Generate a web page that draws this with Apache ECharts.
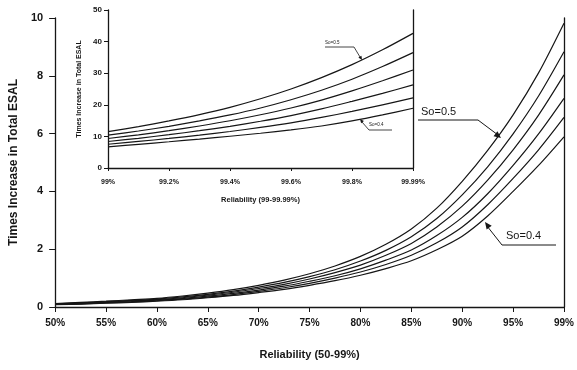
<!DOCTYPE html>
<html><head><meta charset="utf-8">
<script src="https://cdn.jsdelivr.net/npm/echarts@6/dist/echarts.min.js"></script>
<style>html,body{margin:0;padding:0;background:#fff}#c{width:577px;height:370px}</style>
</head><body><div id="c"></div>
<script>
// ---- Main chart data (Reliability 50-99%), every other category is labelled ----
const mainCategories = ['50%','52.5%','55%','57.5%','60%','62.5%','65%','67.5%','70%','72.5%','75%',
                        '77.5%','80%','82.5%','85%','87.5%','90%','92.5%','95%','97%','99%'];
const mainYTicks = [0, 2, 4, 6, 8, 10];
const mainSo050 = [0.12,0.16,0.20,0.25,0.30,0.38,0.48,0.60,0.75,0.93,1.15,1.42,1.75,2.17,2.70,3.42,4.35,5.42,6.65,8.10,9.82];
const mainSo048 = [0.11,0.145,0.185,0.23,0.275,0.35,0.44,0.55,0.69,0.85,1.05,1.29,1.59,1.96,2.43,3.06,3.88,4.85,5.99,7.30,8.83];
const mainSo046 = [0.10,0.133,0.17,0.21,0.255,0.32,0.41,0.51,0.64,0.785,0.97,1.19,1.45,1.79,2.20,2.77,3.49,4.39,5.44,6.64,8.03];
const mainSo044 = [0.095,0.12,0.155,0.19,0.235,0.29,0.375,0.47,0.585,0.72,0.89,1.08,1.32,1.62,1.97,2.47,3.10,3.92,4.90,5.99,7.22];
const mainSo042 = [0.09,0.11,0.14,0.175,0.217,0.27,0.345,0.43,0.54,0.665,0.82,1.00,1.21,1.47,1.79,2.22,2.77,3.54,4.45,5.44,6.56];
const mainSo040 = [0.08,0.10,0.13,0.16,0.20,0.25,0.32,0.40,0.50,0.61,0.75,0.91,1.10,1.33,1.60,1.98,2.45,3.15,4.00,4.90,5.89];

// ---- Inset chart data (Reliability 99-99.99%), every other category is labelled ----
const insetCategories = ['99%','99.1%','99.2%','99.3%','99.4%','99.5%','99.6%','99.7%','99.8%','99.9%','99.99%'];
const insetYTicks = [0, 10, 20, 30, 40, 50];
const insetSo050 = [11.5,13.1,14.9,16.9,19.2,21.9,25.0,28.6,32.7,37.4,42.6];
const insetSo048 = [10.4,11.7,13.2,14.9,16.8,19.0,21.6,24.6,28.1,32.1,36.5];
const insetSo046 = [9.34,10.5,11.8,13.3,14.95,16.85,19.0,21.5,24.4,27.6,31.0];
const insetSo044 = [8.38,9.4,10.55,11.8,13.2,14.8,16.6,18.7,21.1,23.6,26.3];
const insetSo042 = [7.52,8.4,9.35,10.4,11.55,12.85,14.3,16.0,17.9,20.0,22.2];
const insetSo040 = [6.7,7.5,8.3,9.15,10.05,11.0,12.05,13.3,14.9,16.8,18.9];

const FONT = "'Liberation Sans', Arial, sans-serif";
const INK = '#161616';

const chart = echarts.init(document.getElementById('c'), null, {renderer: 'canvas'});

function lineSeries(data, xi, yi) {
  return {
    type: 'line', data: data, xAxisIndex: xi, yAxisIndex: yi,
    smooth: 0.3, symbol: 'none', silent: true,
    lineStyle: {color: INK, width: 1.2}
  };
}

function arrowHead(tip, from, size) {
  const dx = tip[0] - from[0], dy = tip[1] - from[1];
  const len = Math.sqrt(dx*dx + dy*dy);
  const ux = dx/len, uy = dy/len;
  const bx = tip[0] - ux*size, by = tip[1] - uy*size;
  const px = -uy*size*0.45, py = ux*size*0.45;
  return {type: 'polygon', shape: {points: [tip, [bx+px, by+py], [bx-px, by-py]]},
          style: {fill: INK}, z: 100};
}
function poly(points, w) {
  return {type: 'polyline', shape: {points: points}, style: {stroke: INK, lineWidth: w, fill: null}, z: 100};
}
function txt(x, y, s, size) {
  return {type: 'text', x: x, y: y, z: 100,
          style: {text: s, font: size + 'px ' + FONT, fill: INK, textVerticalAlign: 'middle'}};
}

const axisLineStyle = {lineStyle: {color: INK, width: 1.3}};

const option = {
  animation: false,
  backgroundColor: '#fff',
  grid: [
    {left: 55, right: 10, top: 18, bottom: 63},
    {left: 108, right: 164, top: 10, bottom: 202}
  ],
  xAxis: [
    {
      type: 'category', gridIndex: 0, data: mainCategories, boundaryGap: false,
      axisLine: axisLineStyle,
      axisTick: {show: true, length: 5, interval: 1, lineStyle: {color: INK}},
      axisLabel: {color: INK, fontFamily: FONT, fontWeight: 'bold', fontSize: 10, margin: 11, interval: 1},
      splitLine: {show: false},
      name: 'Reliability (50-99%)', nameLocation: 'middle', nameGap: 42,
      nameTextStyle: {color: INK, fontFamily: FONT, fontWeight: 'bold', fontSize: 11}
    },
    {
      type: 'category', gridIndex: 1, data: insetCategories, boundaryGap: false,
      axisLine: axisLineStyle,
      axisTick: {show: true, length: 3, interval: 1, lineStyle: {color: INK}},
      axisLabel: {color: INK, fontFamily: FONT, fontWeight: 'bold', fontSize: 7, margin: 11, interval: 1},
      splitLine: {show: false},
      name: 'Reliability (99-99.99%)', nameLocation: 'middle', nameGap: 28,
      nameTextStyle: {color: INK, fontFamily: FONT, fontWeight: 'bold', fontSize: 7.5}
    }
  ],
  yAxis: [
    {
      type: 'value', gridIndex: 0, min: mainYTicks[0], max: mainYTicks[mainYTicks.length-1],
      interval: mainYTicks[1] - mainYTicks[0],
      axisLine: Object.assign({show: true}, axisLineStyle),
      axisTick: {show: true, length: 6, lineStyle: {color: INK}},
      axisLabel: {color: INK, fontFamily: FONT, fontWeight: 'bold', fontSize: 11, margin: 12},
      splitLine: {show: false},
      name: 'Times Increase in Total ESAL', nameLocation: 'middle', nameGap: 32,
      nameTextStyle: {color: INK, fontFamily: FONT, fontWeight: 'bold', fontSize: 12}
    },
    {
      type: 'value', gridIndex: 0, position: 'right', min: mainYTicks[0], max: mainYTicks[mainYTicks.length-1],
      axisLine: Object.assign({show: true}, axisLineStyle),
      axisTick: {show: false}, axisLabel: {show: false}, splitLine: {show: false}
    },
    {
      type: 'value', gridIndex: 1, min: insetYTicks[0], max: insetYTicks[insetYTicks.length-1],
      interval: insetYTicks[1] - insetYTicks[0],
      axisLine: Object.assign({show: true}, axisLineStyle),
      axisTick: {show: true, length: 4, lineStyle: {color: INK}},
      axisLabel: {color: INK, fontFamily: FONT, fontWeight: 'bold', fontSize: 8, margin: 6},
      splitLine: {show: false},
      name: 'Times Increase in Total ESAL', nameLocation: 'middle', nameGap: 24,
      nameTextStyle: {color: INK, fontFamily: FONT, fontWeight: 'bold', fontSize: 7}
    },
    {
      type: 'value', gridIndex: 1, position: 'right', min: insetYTicks[0], max: insetYTicks[insetYTicks.length-1],
      axisLine: Object.assign({show: true}, axisLineStyle),
      axisTick: {show: false}, axisLabel: {show: false}, splitLine: {show: false}
    }
  ],
  series: [
    lineSeries(mainSo050, 0, 0), lineSeries(mainSo048, 0, 0), lineSeries(mainSo046, 0, 0),
    lineSeries(mainSo044, 0, 0), lineSeries(mainSo042, 0, 0), lineSeries(mainSo040, 0, 0),
    lineSeries(insetSo050, 1, 2), lineSeries(insetSo048, 1, 2), lineSeries(insetSo046, 1, 2),
    lineSeries(insetSo044, 1, 2), lineSeries(insetSo042, 1, 2), lineSeries(insetSo040, 1, 2)
  ],
  graphic: [
    // main So=0.5 annotation
    txt(421, 112, 'So=0.5', 11),
    poly([[418, 120], [478, 120], [498, 135]], 1),
    arrowHead([501, 138], [478, 120], 7),
    // main So=0.4 annotation
    txt(506, 236, 'So=0.4', 11),
    poly([[487, 226], [502, 245], [556, 245]], 1),
    arrowHead([485, 222], [502, 245], 7),
    // inset So=0.5 annotation
    txt(325, 43, 'So=0.5', 4.5),
    poly([[325, 47], [354, 47], [360, 57]], 0.8),
    arrowHead([362, 60], [354, 47], 4),
    // inset So=0.4 annotation
    txt(369, 125, 'So=0.4', 4.5),
    poly([[362, 122], [369, 130], [392, 130]], 0.8),
    arrowHead([360, 119], [369, 130], 4)
  ]
};
chart.setOption(option);
</script>
</body></html>
